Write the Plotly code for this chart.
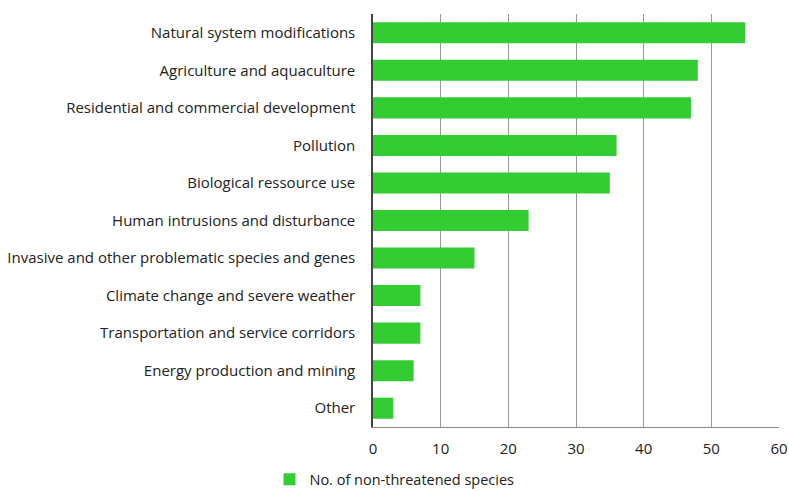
import plotly.graph_objects as go

categories = ["Natural system modifications", "Agriculture and aquaculture",
              "Residential and commercial development", "Pollution",
              "Biological ressource use", "Human intrusions and disturbance",
              "Invasive and other problematic species and genes",
              "Climate change and severe weather", "Transportation and service corridors",
              "Energy production and mining", "Other"]
values = [55, 48, 47, 36, 35, 23, 15, 7, 7, 6, 3]
series_name = "No. of non-threatened species"
x_ticks = [0, 10, 20, 30, 40, 50, 60]

fig = go.Figure(go.Bar(
    y=categories, x=values, orientation="h", name=series_name,
    marker=dict(color="#33CC33", line=dict(width=0)), showlegend=True,
))
fig.update_layout(
    width=789, height=491, margin=dict(l=373, r=10, t=14, b=64, autoexpand=False),
    paper_bgcolor="white", plot_bgcolor="white",
    font=dict(family="Open Sans, sans-serif", size=15, color="#222"),
    bargap=0.44,
    legend=dict(orientation="h", x=-0.255, xanchor="left", y=-0.088, yanchor="top",
                font=dict(size=14.5), itemwidth=30, tracegroupgap=0),
)
fig.update_xaxes(range=[0, 60], tickvals=x_ticks, showgrid=True, gridcolor="#999999",
                 gridwidth=1, showline=True, linecolor="#888888", ticks="",
                 zeroline=False, tickfont=dict(size=15), ticklabelstandoff=8)
fig.update_yaxes(categoryorder="array", categoryarray=categories[::-1],
                 showline=True, linecolor="#444444", linewidth=1.5, ticks="",
                 ticklabelstandoff=13, tickfont=dict(size=15))
fig.write_html("out.html")
